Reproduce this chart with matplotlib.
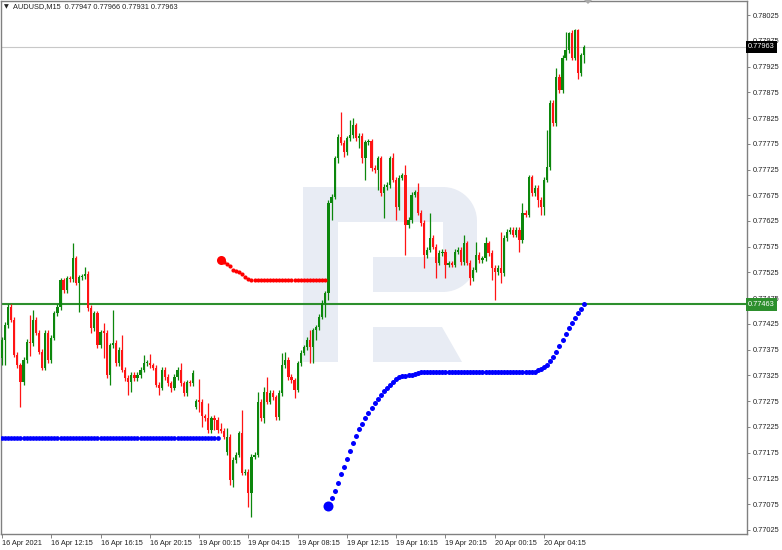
import matplotlib
matplotlib.use("Agg")
import numpy as np
import matplotlib.pyplot as plt
from matplotlib.patches import Rectangle, Polygon
from matplotlib.transforms import blended_transform_factory

plt.rcParams['font.family'] = ['Liberation Sans', 'DejaVu Sans']

# AUDUSD M15 close prices, bar 0 = 16 Apr 2021 08:15
closes = [
    0.77394, 0.77423, 0.77458, 0.77433, 0.77365, 0.77345, 0.77312, 0.77355, 0.77390, 0.77388,
    0.77433, 0.77408, 0.77371, 0.77340, 0.77408, 0.77355, 0.77398, 0.77446, 0.77458, 0.77510,
    0.77491, 0.77514, 0.77512, 0.77553, 0.77505, 0.77516, 0.77518, 0.77522, 0.77456, 0.77417,
    0.77446, 0.77384, 0.77409, 0.77408, 0.77326, 0.77384, 0.77388, 0.77349, 0.77375, 0.77336,
    0.77320, 0.77312, 0.77326, 0.77320, 0.77326, 0.77336, 0.77349, 0.77350, 0.77345, 0.77340,
    0.77307, 0.77301, 0.77336, 0.77322, 0.77310, 0.77301, 0.77322, 0.77336, 0.77310, 0.77291,
    0.77312, 0.77310, 0.77330, 0.77275, 0.77274, 0.77246, 0.77242, 0.77219, 0.77242, 0.77239,
    0.77219, 0.77218, 0.77206, 0.77206, 0.77122, 0.77161, 0.77171, 0.77213, 0.77136, 0.77138,
    0.77097, 0.77167, 0.77171, 0.77274, 0.77242, 0.77293, 0.77274, 0.77291, 0.77283, 0.77244,
    0.77291, 0.77345, 0.77355, 0.77322, 0.77316, 0.77297, 0.77349, 0.77369, 0.77380, 0.77394,
    0.77380, 0.77413, 0.77419, 0.77439, 0.77466, 0.77485, 0.77660, 0.77672, 0.77747, 0.77788,
    0.77777, 0.77759, 0.77786, 0.77792, 0.77811, 0.77786, 0.77790, 0.77747, 0.77778, 0.77780,
    0.77728, 0.77724, 0.77747, 0.77679, 0.77691, 0.77695, 0.77747, 0.77705, 0.77652, 0.77709,
    0.77714, 0.77617, 0.77627, 0.77676, 0.77681, 0.77641, 0.77621, 0.77559, 0.77569, 0.77592,
    0.77575, 0.77544, 0.77563, 0.77565, 0.77540, 0.77542, 0.77540, 0.77565, 0.77569, 0.77545,
    0.77582, 0.77544, 0.77514, 0.77530, 0.77559, 0.77549, 0.77553, 0.77582, 0.77563, 0.77534,
    0.77526, 0.77534, 0.77524, 0.77592, 0.77604, 0.77608, 0.77598, 0.77608, 0.77588, 0.77641,
    0.77637, 0.77710, 0.77679, 0.77689, 0.77666, 0.77652, 0.77705, 0.77730, 0.77854, 0.77815,
    0.77905, 0.77879, 0.77942, 0.77957, 0.77990, 0.77942, 0.77996, 0.77912, 0.77947, 0.77963,
]
first_open = 0.77359
gap_opens = {63: 0.77264, 73: 0.77176}  # bars opening away from previous close

# wick lengths in points (0.00001); bars not listed have short wicks
wick_default = 5
wick_up = {9: 52, 10: 19, 23: 29, 27: 14, 33: 17, 36: 64, 39: 29, 46: 16, 48: 16, 58: 14,
           64: 43, 67: 30, 69: 6, 71: 14, 73: 17, 78: 45, 83: 19, 85: 10, 86: 29, 91: 23,
           92: 16, 100: 20, 110: 49, 113: 29, 114: 14, 127: 10, 131: 20, 135: 17, 139: 49,
           150: 16, 154: 25, 157: 12, 162: 70, 169: 19, 171: 4, 177: 72, 180: 17, 183: 35,
           184: 2, 186: 2, 187: 2, 189: 3}
wick_dn = {0: 14, 1: 48, 6: 49, 9: 25, 25: 56, 29: 10, 33: 50, 35: 19, 41: 25, 42: 19,
           51: 14, 55: 8, 64: 19, 65: 21, 69: 20, 74: 10, 75: 14, 80: 27, 81: 47, 85: 10,
           95: 16, 100: 30, 101: 30, 102: 20, 105: 27, 106: 14, 107: 33, 109: 10, 111: 10,
           116: 20, 117: 10, 118: 43, 122: 39, 124: 49, 128: 25, 131: 58, 137: 25, 141: 29,
           144: 25, 152: 14, 159: 23, 160: 54, 162: 19, 168: 23, 174: 14, 175: 16, 176: 16,
           187: 12, 189: 16}

# red dotted indicator from bar 71
red_start = 71
red_vals = [0.77549, 0.77545, 0.77541, 0.77538, 0.77530, 0.77528, 0.77526, 0.77522, 0.77516, 0.77512,
            0.77510, 0.77510, 0.77510, 0.77510, 0.77510, 0.77510, 0.77510, 0.77510, 0.77510, 0.77510,
            0.77510, 0.77510, 0.77510, 0.77510, 0.77510, 0.77510, 0.77510, 0.77510, 0.77510, 0.77510,
            0.77510, 0.77510, 0.77510, 0.77510, 0.77510]

# blue dotted indicator: flat part bars 0..70, rising part from bar 106
blue_left = [0.77204, 0.77204, 0.77204, 0.77204, 0.77204, 0.77204, 0.77204, 0.77204, 0.77204, 0.77204,
             0.77204, 0.77204, 0.77204, 0.77204, 0.77204, 0.77204, 0.77204, 0.77204, 0.77204, 0.77204,
             0.77204, 0.77204, 0.77204, 0.77204, 0.77204, 0.77204, 0.77204, 0.77204, 0.77204, 0.77204,
             0.77204, 0.77204, 0.77204, 0.77204, 0.77204, 0.77204, 0.77204, 0.77204, 0.77204, 0.77204,
             0.77204, 0.77204, 0.77204, 0.77204, 0.77204, 0.77204, 0.77204, 0.77204, 0.77204, 0.77204,
             0.77204, 0.77204, 0.77204, 0.77204, 0.77204, 0.77204, 0.77204, 0.77204, 0.77204, 0.77204,
             0.77204, 0.77204, 0.77204, 0.77204, 0.77204, 0.77204, 0.77204, 0.77204, 0.77204, 0.77204,
             0.77204]
blue_start = 106
blue_right = [0.77072, 0.77087, 0.77101, 0.77116, 0.77134, 0.77147, 0.77163, 0.77178, 0.77194, 0.77208,
              0.77221, 0.77231, 0.77243, 0.77252, 0.77262, 0.77272, 0.77279, 0.77287, 0.77295, 0.77301,
              0.77307, 0.77312, 0.77318, 0.77322, 0.77324, 0.77324, 0.77326, 0.77326, 0.77328, 0.77330,
              0.77332, 0.77332, 0.77332, 0.77332, 0.77332, 0.77332, 0.77332, 0.77332, 0.77332, 0.77332,
              0.77332, 0.77332, 0.77332, 0.77332, 0.77332, 0.77332, 0.77332, 0.77332, 0.77332, 0.77332,
              0.77332, 0.77332, 0.77332, 0.77332, 0.77332, 0.77332, 0.77332, 0.77332, 0.77332, 0.77332,
              0.77332, 0.77332, 0.77332, 0.77332, 0.77332, 0.77332, 0.77332, 0.77332,
              0.77336, 0.77338, 0.77342, 0.77345, 0.77353, 0.77361, 0.77371, 0.77382, 0.77394, 0.77406,
              0.77417, 0.77427, 0.77437, 0.77446, 0.77454, 0.77464]

level_price = 0.77463
last_price = 0.77963
header = "AUDUSD,M15  0.77947 0.77966 0.77931 0.77963"

tick_bars = [0, 16, 32, 48, 64, 80, 96, 112, 128, 144, 160, 176]
tick_labels = ["16 Apr 2021", "16 Apr 12:15", "16 Apr 16:15", "16 Apr 20:15",
               "19 Apr 00:15", "19 Apr 04:15", "19 Apr 08:15", "19 Apr 12:15",
               "19 Apr 16:15", "19 Apr 20:15", "20 Apr 00:15", "20 Apr 04:15"]
price_ticks = [0.77025, 0.77075, 0.77125, 0.77175, 0.77225, 0.77275, 0.77325, 0.77375,
               0.77425, 0.77475, 0.77525, 0.77575, 0.77625, 0.77675, 0.77725, 0.77775,
               0.77825, 0.77875, 0.77925, 0.77975, 0.78025]

W, H = 782, 550
fs = 5.3
fig = plt.figure(figsize=(W / 100, H / 100), dpi=100)
ax = fig.add_axes([1 / W, (H - 534) / H, 746 / W, 533 / H])


def px(x, y):
    # pixel (from top-left) -> figure fraction
    return (x / W, 1 - y / H)


# watermark logo behind the candles
wm = '#e8ecf4'
def wm_rect(x0, y0, x1, y1):
    ax.add_patch(Rectangle(px(x0, y1), (x1 - x0) / W, (y1 - y0) / H, transform=fig.transFigure,
                           fc=wm, ec='none', zorder=0.5))

wm_rect(303, 187, 338, 362)
wm_rect(303, 187, 445, 222)
wm_rect(373, 257, 445, 292)
r = 34
t = np.linspace(0, np.pi / 2, 14)
bowl = [(443, 187)]
bowl += [(477 - r + r * np.sin(a), 187 + r - r * np.cos(a)) for a in t]
bowl += [(477 - r + r * np.cos(a), 292 - r + r * np.sin(a)) for a in t]
bowl += [(443, 292)]
ax.add_patch(Polygon([px(x, y) for x, y in bowl], closed=True, transform=fig.transFigure,
                     fc=wm, ec='none', zorder=0.5))
ax.add_patch(Polygon([px(373, 327), px(442, 327), px(462, 362), px(373, 362)], closed=True,
                     transform=fig.transFigure, fc=wm, ec='none', zorder=0.5))

# candles
opens = []
prev = first_open
for i, c in enumerate(closes):
    opens.append(gap_opens.get(i, prev))
    prev = c

up_c, dn_c, doji_c = '#0c870c', '#ff1414', '#555555'
xs, lows, highs, bots, heights, cols = [], [], [], [], [], []
for i, (o, c) in enumerate(zip(opens, closes)):
    top, bot = max(o, c), min(o, c)
    highs.append(top + wick_up.get(i, wick_default) * 1e-5)
    lows.append(bot - wick_dn.get(i, wick_default) * 1e-5)
    cols.append(up_c if c > o else (dn_c if c < o else doji_c))
    bots.append(bot)
    heights.append(max(top - bot, 0.000025))
    xs.append(i)

ax.vlines(xs, lows, highs, colors=cols, lw=0.9, zorder=3)
ax.bar(xs, heights, bottom=bots, width=0.72, color=cols, lw=0, zorder=4)

# levels
ax.axhline(last_price, color='#c8c8c8', lw=0.8, zorder=1)
ax.axhline(level_price, color='#2d8f2d', lw=1.5, zorder=2)

# indicators
ax.plot(range(red_start, red_start + len(red_vals)), red_vals, ls='none', marker='o',
        ms=3.0, mew=0, color='#ff0000', zorder=5)
ax.plot([red_start], [red_vals[0]], ls='none', marker='o', ms=6.5, mew=0, color='#ff0000', zorder=5)
ax.plot(range(0, len(blue_left)), blue_left, ls='none', marker='o',
        ms=3.4, mew=0, color='#0000ff', zorder=5)
ax.plot(range(blue_start, blue_start + len(blue_right)), blue_right, ls='none', marker='o',
        ms=3.6, mew=0, color='#0000ff', zorder=5)
ax.plot([blue_start], [blue_right[0]], ls='none', marker='o', ms=7.2, mew=0, color='#0000ff', zorder=5)

# axes
ax.set_xlim(-0.32, 241.9)
ax.set_ylim(0.770172, 0.780522)
ax.yaxis.tick_right()
ax.set_yticks(price_ticks)
ax.set_yticklabels(["%.5f" % p for p in price_ticks])
ax.set_xticks(tick_bars)
ax.set_xticklabels(tick_labels)
for lbl in ax.get_xticklabels():
    lbl.set_horizontalalignment('left')
ax.tick_params(axis='y', direction='out', length=2.5, width=0.6, pad=1.5,
               labelsize=fs, color='#707070', labelcolor='#222222')
ax.tick_params(axis='x', direction='out', length=3, width=0.6, pad=1.0,
               labelsize=fs, color='#707070', labelcolor='#222222')
for s in ax.spines.values():
    s.set_color('#808080')
    s.set_linewidth(1.0)

# price boxes on the right scale
trans = blended_transform_factory(ax.transAxes, ax.transData)
ax.text(1.0015, last_price, "%.5f" % last_price, transform=trans, ha='left', va='center',
        fontsize=fs, color='white', clip_on=False, zorder=10,
        bbox=dict(boxstyle='square,pad=0.35', fc='black', ec='none'))
ax.text(1.0015, level_price, "%.5f" % level_price, transform=trans, ha='left', va='center',
        fontsize=fs, color='white', clip_on=False, zorder=10,
        bbox=dict(boxstyle='square,pad=0.35', fc='#2d8f2d', ec='none'))

# header and chart shift marker
fig.text(*px(4, 7), "\u25bc", fontsize=4.5, family='DejaVu Sans', va='center', color='#222222')
fig.text(*px(13, 7), header, fontsize=fs, va='center', color='#222222')
fig.add_artist(Polygon([px(584, 0), px(592, 0), px(588, 4)], closed=True,
                       transform=fig.transFigure, fc='#a8a8a8', ec='none'))

fig.savefig("out.png", dpi=100, facecolor='white')
